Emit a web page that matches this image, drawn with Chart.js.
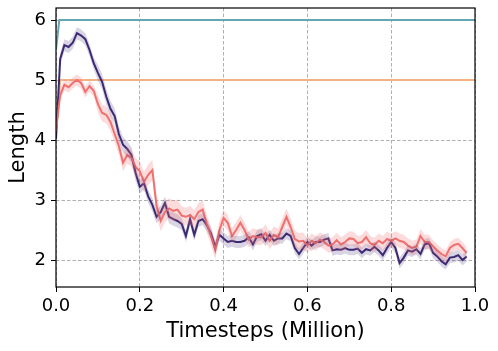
<!DOCTYPE html>
<html>
<head>
<meta charset="utf-8">
<script src="https://cdn.jsdelivr.net/npm/chart.js@4/dist/chart.umd.min.js"></script>
<style>
  body { margin: 0; background: #fff; }
  canvas { display: block; }
</style>
</head>
<body>
<canvas id="chart" width="498" height="351"></canvas>
<script>
// x positions (million timesteps), one every 0.01
const steps = [
  0.00, 0.01, 0.02, 0.03, 0.04, 0.05, 0.06, 0.07, 0.08, 0.09,
  0.10, 0.11, 0.12, 0.13, 0.14, 0.15, 0.16, 0.17, 0.18, 0.19,
  0.20, 0.21, 0.22, 0.23, 0.24, 0.25, 0.26, 0.27, 0.28, 0.29,
  0.30, 0.31, 0.32, 0.33, 0.34, 0.35, 0.36, 0.37, 0.38, 0.39,
  0.40, 0.41, 0.42, 0.43, 0.44, 0.45, 0.46, 0.47, 0.48, 0.49,
  0.50, 0.51, 0.52, 0.53, 0.54, 0.55, 0.56, 0.57, 0.58, 0.59,
  0.60, 0.61, 0.62, 0.63, 0.64, 0.65, 0.66, 0.67, 0.68, 0.69,
  0.70, 0.71, 0.72, 0.73, 0.74, 0.75, 0.76, 0.77, 0.78, 0.79,
  0.80, 0.81, 0.82, 0.83, 0.84, 0.85, 0.86, 0.87, 0.88, 0.89,
  0.90, 0.91, 0.92, 0.93, 0.94, 0.95, 0.96, 0.97, 0.98
];

// salmon run (mean)
const redLength = [
  4.15, 4.75, 4.92, 4.88, 4.95, 5.00, 4.95, 4.80, 4.90, 4.82,
  4.60, 4.45, 4.42, 4.30, 4.10, 3.90, 3.62, 3.75, 3.70, 3.55,
  3.48, 3.30, 3.42, 3.50, 2.90, 2.65, 2.80, 2.86, 2.82, 2.84,
  2.74, 2.72, 2.75, 2.68, 2.80, 2.84, 2.60, 2.40, 2.16, 2.50,
  2.70, 2.62, 2.40, 2.50, 2.62, 2.50, 2.34, 2.40, 2.38, 2.38,
  2.45, 2.32, 2.42, 2.38, 2.55, 2.72, 2.55, 2.35, 2.31, 2.32,
  2.24, 2.32, 2.28, 2.34, 2.30, 2.24, 2.26, 2.33, 2.26, 2.30,
  2.36, 2.35, 2.28, 2.30, 2.38, 2.28, 2.25, 2.32, 2.28, 2.35,
  2.32, 2.36, 2.32, 2.30, 2.24, 2.20, 2.22, 2.40, 2.30, 2.30,
  2.23, 2.16, 2.10, 2.06, 2.20, 2.25, 2.27, 2.20, 2.12
];

// dark purple run (mean)
const purpleLength = [
  4.02, 5.35, 5.58, 5.55, 5.62, 5.78, 5.74, 5.68, 5.50, 5.28,
  5.12, 4.97, 4.72, 4.52, 4.40, 4.10, 3.92, 3.85, 3.75, 3.45,
  3.22, 3.28, 3.06, 2.92, 2.72, 2.80, 2.95, 2.72, 2.68, 2.65,
  2.60, 2.40, 2.68, 2.42, 2.65, 2.68, 2.58, 2.44, 2.22, 2.42,
  2.36, 2.30, 2.32, 2.30, 2.30, 2.32, 2.38, 2.26, 2.40, 2.43,
  2.32, 2.42, 2.32, 2.36, 2.36, 2.44, 2.40, 2.20, 2.10, 2.20,
  2.30, 2.24, 2.30, 2.30, 2.34, 2.36, 2.16, 2.18, 2.17, 2.20,
  2.17, 2.17, 2.19, 2.12, 2.18, 2.16, 2.22, 2.16, 2.08, 2.20,
  2.30, 2.20, 1.95, 2.04, 2.16, 2.14, 2.18, 2.10, 2.26, 2.28,
  2.12, 2.06, 1.98, 1.93, 2.04, 2.05, 2.08, 2.00, 2.06
];

// half width of the shaded band, one value per 0.1 of the x range
const redSpread = [0.09, 0.14, 0.17, 0.15, 0.13, 0.14, 0.12, 0.12, 0.12, 0.10];
const purpleSpread = [0.10, 0.13, 0.11, 0.10, 0.10, 0.09, 0.09, 0.09, 0.09, 0.09];

// reference lengths
const tealSteps = [0.0, 0.008, 1.0];
const tealLength = [5.5, 6, 6];
const orangeSteps = [0.0, 0.01, 1.0];
const orangeLength = [4.15, 5, 5];

const xTicks = [0, 0.2, 0.4, 0.6, 0.8, 1.0];
const yTicks = [2, 3, 4, 5, 6];

const FONT = "'DejaVu Sans', sans-serif";

const points = (xs, ys) => xs.map((x, i) => ({ x: x, y: ys[i] }));
const band = (ys, spread, sign) =>
  steps.map((x, i) => ({ x: x, y: ys[i] + sign * spread[Math.min(9, Math.floor(x * 10 + 1e-9))] }));

// draws the box round the plot area
const frame = {
  id: 'frame',
  afterDatasetsDraw(chart) {
    const { ctx, chartArea: a } = chart;
    ctx.save();
    ctx.strokeStyle = '#000';
    ctx.lineWidth = 1.2;
    ctx.strokeRect(a.left, a.top, a.right - a.left, a.bottom - a.top);
    ctx.restore();
  }
};

const bandStyle = (color) => ({
  borderWidth: 0,
  pointRadius: 0,
  backgroundColor: color,
});

new Chart(document.getElementById('chart'), {
  type: 'line',
  data: {
    datasets: [
      { data: band(redLength, redSpread, 1), fill: false, ...bandStyle('rgba(240,113,111,0.25)') },
      { data: band(redLength, redSpread, -1), fill: '-1', ...bandStyle('rgba(240,113,111,0.25)') },
      { data: band(purpleLength, purpleSpread, 1), fill: false, ...bandStyle('rgba(59,42,114,0.2)') },
      { data: band(purpleLength, purpleSpread, -1), fill: '-1', ...bandStyle('rgba(59,42,114,0.2)') },
      { data: points(steps, redLength), borderColor: '#f0716f', borderWidth: 2, pointRadius: 0, fill: false },
      { data: points(steps, purpleLength), borderColor: '#3b2a72', borderWidth: 2, pointRadius: 0, fill: false },
      { data: points(orangeSteps, orangeLength), borderColor: '#f4b183', borderWidth: 2, pointRadius: 0, fill: false },
      { data: points(tealSteps, tealLength), borderColor: '#64a6b4', borderWidth: 2, pointRadius: 0, fill: false },
    ]
  },
  options: {
    responsive: false,
    animation: false,
    layout: { padding: { left: 0, right: 23, top: 8, bottom: 0 } },
    elements: { line: { tension: 0 } },
    plugins: {
      legend: { display: false },
      tooltip: { enabled: false },
    },
    scales: {
      x: {
        type: 'linear',
        min: 0,
        max: 1.0,
        afterBuildTicks: (s) => { s.ticks = xTicks.map(v => ({ value: v })); },
        afterFit: (s) => { s.height = 64; s.paddingLeft = 0; s.paddingRight = 0; },
        ticks: {
          color: '#000',
          font: { family: FONT, size: 18 },
          padding: 4,
          maxRotation: 0,
          callback: (v) => v.toFixed(1),
        },
        grid: { color: '#b0b0b0', tickColor: '#000', tickLength: 5, lineWidth: 1 },
        border: { display: false, dash: [3.5, 2] },
        title: {
          display: true,
          text: 'Timesteps (Million)',
          color: '#000',
          font: { family: FONT, size: 21 },
          padding: { top: 0, bottom: 7 },
        },
      },
      y: {
        min: 1.55,
        max: 6.2,
        afterBuildTicks: (s) => { s.ticks = yTicks.map(v => ({ value: v })); },
        afterFit: (s) => { s.width = 56; s.paddingTop = 0; s.paddingBottom = 0; },
        ticks: {
          color: '#000',
          font: { family: FONT, size: 18 },
          padding: 5,
          callback: (v) => v.toFixed(0),
        },
        grid: { color: '#b0b0b0', tickColor: '#000', tickLength: 5, lineWidth: 1 },
        border: { display: false, dash: [3.5, 2] },
        title: {
          display: true,
          text: 'Length',
          color: '#000',
          font: { family: FONT, size: 21 },
          padding: { top: 6, bottom: 0 },
        },
      },
    },
  },
  plugins: [frame],
});
</script>
</body>
</html>
